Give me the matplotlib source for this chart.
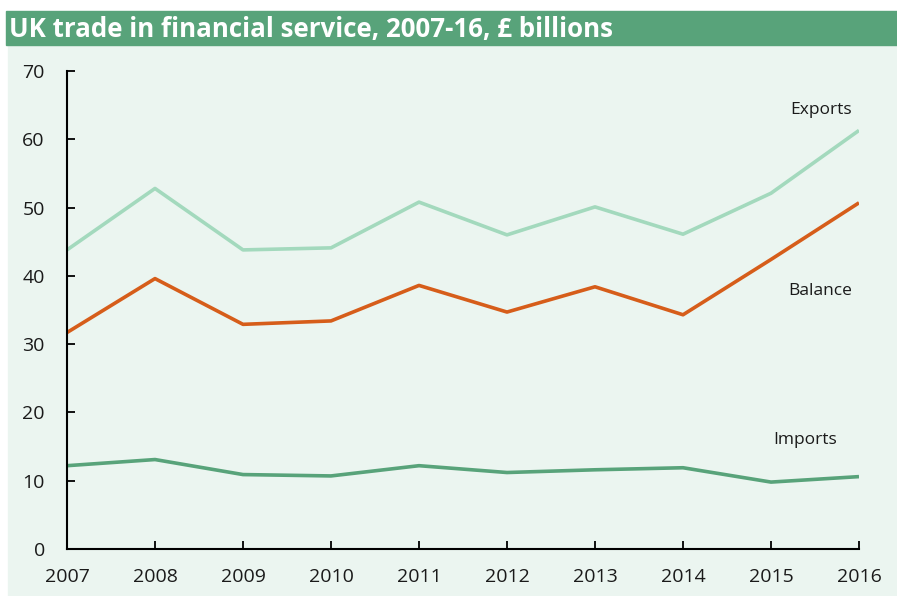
import matplotlib.pyplot as plt
from matplotlib.patches import Rectangle

years = [2007, 2008, 2009, 2010, 2011, 2012, 2013, 2014, 2015, 2016]
exports = [43.8, 52.8, 43.8, 44.1, 50.8, 46.0, 50.1, 46.1, 52.1, 61.3]
imports = [12.2, 13.1, 10.9, 10.7, 12.2, 11.2, 11.6, 11.9, 9.8, 10.6]
balance = [31.7, 39.6, 32.9, 33.4, 38.6, 34.7, 38.4, 34.3, 42.4, 50.7]
yticks = [0, 10, 20, 30, 40, 50, 60, 70]

GREEN = '#58a37a'
BG = '#ebf5f0'


def main():
    plt.rcParams['font.family'] = ['Open Sans', 'DejaVu Sans']
    fig = plt.figure(figsize=(8.97, 5.96), dpi=100)
    W, H = 897, 596

    # background panel and title bar (kept below the axes)
    fig.patches.append(Rectangle((8 / W, 0), 1 - 8 / W, 551 / H,
                                 transform=fig.transFigure, color=BG, zorder=-2))
    fig.patches.append(Rectangle((6 / W, (596 - 45) / H), 1 - 6 / W, 34 / H,
                                 transform=fig.transFigure, color=GREEN, zorder=-2))
    fig.text(9 / W, (596 - 29) / H, 'UK trade in financial service, 2007-16, £ billions',
             color='white', fontsize=18.6, fontweight='bold', va='center', ha='left')

    ax = fig.add_axes([67 / W, (596 - 549) / H, (859 - 67) / W, (549 - 71) / H])
    ax.set_zorder(2)
    ax.set_facecolor('none')

    ax.plot(years, exports, color='#a3d9bd', linewidth=2.6, solid_capstyle='butt')
    ax.plot(years, balance, color='#d65d1a', linewidth=2.6, solid_capstyle='butt')
    ax.plot(years, imports, color=GREEN, linewidth=2.6, solid_capstyle='butt')

    ax.text(2015.57, 64.3, 'Exports', fontsize=12.5, ha='center', va='center', color='#1a1a1a')
    ax.text(2015.56, 37.8, 'Balance', fontsize=12.5, ha='center', va='center', color='#1a1a1a')
    ax.text(2015.39, 15.9, 'Imports', fontsize=12.5, ha='center', va='center', color='#1a1a1a')

    ax.set_xlim(2007, 2016)
    ax.set_ylim(0, 70)
    ax.set_xticks(years)
    ax.set_yticks(yticks)
    ax.set_xticklabels([str(y) for y in years])

    for side in ['top', 'right']:
        ax.spines[side].set_visible(False)
    for side in ['left', 'bottom']:
        ax.spines[side].set_linewidth(1.5)
        ax.spines[side].set_color('black')
    ax.tick_params(axis='both', direction='in', length=6, width=1.3, labelsize=14,
                   colors='black', labelcolor='#1a1a1a')
    ax.tick_params(axis='x', pad=14)
    ax.tick_params(axis='y', pad=16)

    plt.savefig('out.png', dpi=100)
    plt.close()


if __name__ == '__main__':
    main()
